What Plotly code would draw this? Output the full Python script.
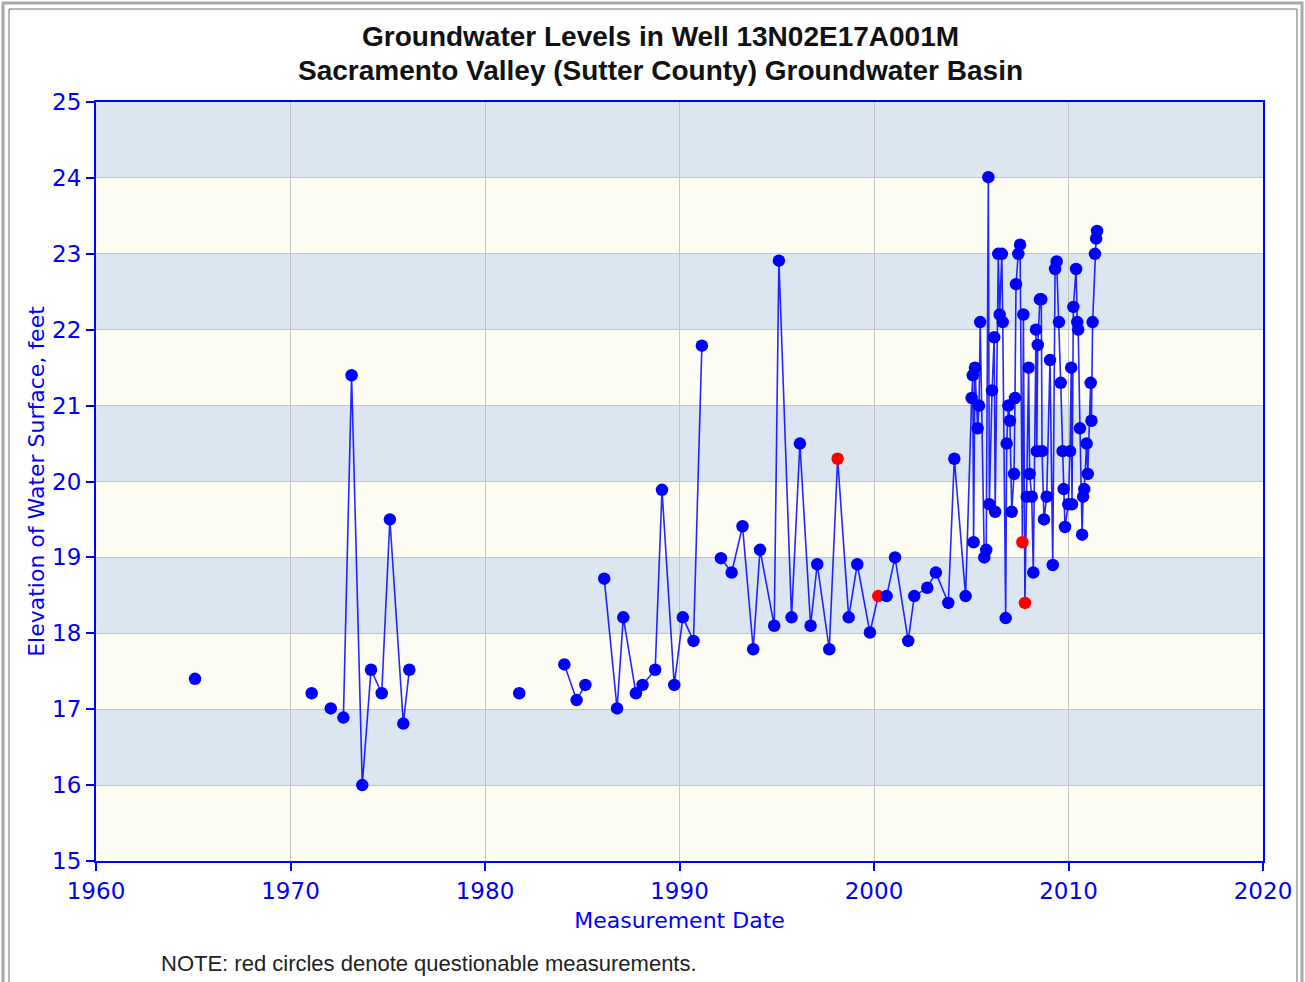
import plotly.graph_objects as go

# ---------------- data ----------------
dates = [
    1965.09,
    1971.09,
    1972.07,
    1972.72, 1973.14, 1973.69, 1974.14, 1974.69, 1975.11, 1975.80, 1976.11,
    1981.76,
    1984.08, 1984.71, 1985.16,
    1986.13, 1986.79, 1987.11, 1987.76, 1988.10, 1988.75, 1989.10, 1989.73,
    1990.17, 1990.72, 1991.15,
    1992.13, 1992.68, 1993.24, 1993.79, 1994.14, 1994.87, 1995.11, 1995.76,
    1996.19, 1996.74, 1997.08, 1997.70, 1998.13, 1998.70, 1999.14, 1999.79,
    2000.22, 2000.65, 2001.08, 2001.76, 2002.07, 2002.74, 2003.18, 2003.82,
    2004.13, 2004.71,
    2005.02, 2005.08, 2005.12, 2005.19, 2005.33, 2005.40, 2005.46, 2005.67,
    2005.77, 2005.88, 2005.93, 2006.07, 2006.18, 2006.23, 2006.39, 2006.46,
    2006.57, 2006.62, 2006.77, 2006.82, 2006.91, 2006.99, 2007.08, 2007.20,
    2007.25, 2007.30, 2007.42, 2007.51, 2007.63, 2007.68, 2007.76, 2007.85,
    2007.95, 2008.00, 2008.11, 2008.19, 2008.33, 2008.37, 2008.42, 2008.53,
    2008.60, 2008.64, 2008.74, 2008.88, 2009.05, 2009.19, 2009.31, 2009.39,
    2009.51, 2009.60, 2009.70, 2009.75, 2009.82, 2009.99, 2010.08, 2010.14,
    2010.18, 2010.25, 2010.39, 2010.45, 2010.50, 2010.59, 2010.70, 2010.75,
    2010.81, 2010.93, 2010.99, 2011.14, 2011.18, 2011.24, 2011.36, 2011.42,
    2011.47,
]

levels = [
    17.40,
    17.21,
    17.01,
    16.89, 21.40, 16.00, 17.52, 17.21, 19.50, 16.81, 17.52,
    17.21,
    17.59, 17.12, 17.32,
    18.72, 17.01, 18.21, 17.21, 17.32, 17.52, 19.89, 17.32,
    18.21, 17.90, 21.79,
    18.99, 18.80, 19.41, 17.79, 19.10, 18.10, 22.91, 18.21,
    20.50, 18.10, 18.91, 17.79, 20.30, 18.21, 18.91, 18.01,
    18.49, 18.49, 19.00, 17.90, 18.49, 18.60, 18.80, 18.40,
    20.30, 18.49,
    21.10, 21.40, 19.20, 21.50, 20.70, 21.00, 22.10, 19.00,
    19.10, 24.01, 19.70, 21.20, 21.90, 19.60, 23.00, 22.20,
    23.00, 22.10, 18.20, 20.50, 21.00, 20.80, 19.60, 20.10,
    21.10, 22.60, 23.00, 23.12, 19.20, 22.20, 18.40, 19.80,
    21.50, 20.10, 19.80, 18.80, 22.00, 20.40, 21.80, 22.40,
    22.40, 20.40, 19.50, 19.80, 21.60, 18.90, 22.80, 22.90,
    22.10, 21.30, 20.40, 19.90, 19.40, 19.70, 20.40, 21.50,
    19.70, 22.30, 22.80, 22.10, 22.00, 20.70, 19.30, 19.80,
    19.90, 20.50, 20.10, 21.30, 20.80, 22.10, 23.00, 23.20,
    23.30,
]

questionable_dates = [1998.13, 2000.22, 2007.63, 2007.76]

# indices after which the connecting line is broken
line_breaks_after = [0, 1, 2, 10, 11, 14, 25]

x_tick_values = [1960, 1970, 1980, 1990, 2000, 2010, 2020]
y_tick_values = list(range(15, 26))

title_lines = ["Groundwater Levels in Well 13N02E17A001M",
               "Sacramento Valley (Sutter County) Groundwater Basin"]
x_title = "Measurement Date"
y_title = "Elevation of Water Surface, feet"
note_text = "NOTE: red circles denote questionable measurements."

# ---------------- build figure ----------------
BLUE = "#0000FF"
RED = "#FF0000"

line_x, line_y = [], []
for i, (d, v) in enumerate(zip(dates, levels)):
    line_x.append(d)
    line_y.append(v)
    if i in line_breaks_after:
        line_x.append(None)
        line_y.append(None)

marker_colors = [RED if d in questionable_dates else BLUE for d in dates]

fig = go.Figure()
fig.add_trace(go.Scatter(
    x=line_x, y=line_y, mode="lines",
    line=dict(color="rgba(0,0,255,0.85)", width=1.6),
    connectgaps=False, hoverinfo="skip", showlegend=False,
))
fig.add_trace(go.Scatter(
    x=dates, y=levels, mode="markers",
    marker=dict(color=marker_colors, size=12.5, line=dict(width=0)),
    showlegend=False,
))

# alternating background bands
shapes = []
for lo in range(15, 25):
    shapes.append(dict(
        type="rect", xref="paper", yref="y", x0=0, x1=1, y0=lo, y1=lo + 1,
        fillcolor="#DCE6F1" if lo % 2 == 0 else "#FDFDF4",
        line=dict(width=0), layer="below",
    ))

# outer image frame (px -> paper)
W, H = 1305, 982
L, R, T, B = 96, 42, 102, 121
pw, ph = W - L - R, H - T - B


def px(xp):
    return (xp - L) / pw


def py(yp):
    return (H - B - yp) / ph


shapes.append(dict(type="rect", xref="paper", yref="paper",
                   x0=px(3), x1=px(1302), y0=py(3), y1=py(1000),
                   line=dict(color="#A8A8A8", width=3), layer="above"))
shapes.append(dict(type="rect", xref="paper", yref="paper",
                   x0=px(9), x1=px(1297), y0=py(9), y1=py(1000),
                   line=dict(color="#707070", width=1), layer="above"))

title_font = dict(family="Liberation Sans, Arial", size=28, color="#111111")
annotations = [
    dict(text=f"<b>{title_lines[0]}</b>", xref="paper", yref="paper",
         x=px(660), y=py(37), xanchor="center", yanchor="middle",
         showarrow=False, font=title_font),
    dict(text=f"<b>{title_lines[1]}</b>", xref="paper", yref="paper",
         x=px(660), y=py(71), xanchor="center", yanchor="middle",
         showarrow=False, font=title_font),
    dict(text=note_text, xref="paper", yref="paper",
         x=px(159), y=py(963), xanchor="left", yanchor="middle",
         showarrow=False,
         font=dict(family="Liberation Sans, Arial", size=22, color="#222222")),
]

tick_font = dict(family="DejaVu Sans", size=23, color=BLUE)
title_axis_font = dict(family="DejaVu Sans", size=22, color=BLUE)

fig.update_layout(
    width=W, height=H,
    margin=dict(l=L, r=R, t=T, b=B, autoexpand=False),
    paper_bgcolor="white",
    plot_bgcolor="#FDFDF4",
    shapes=shapes,
    annotations=annotations,
    xaxis=dict(
        range=[1960, 2020], tickvals=x_tick_values,
        ticktext=[str(v) for v in x_tick_values],
        showgrid=True, gridcolor="#C4C4C4", gridwidth=1,
        showline=True, linecolor=BLUE, linewidth=2, mirror=True,
        ticks="outside", ticklen=8, tickcolor=BLUE, tickwidth=2,
        tickfont=tick_font, zeroline=False, automargin=False,
        title=dict(text=x_title, font=title_axis_font, standoff=10),
    ),
    yaxis=dict(
        range=[15, 25], tickvals=y_tick_values,
        showgrid=True, gridcolor="#C4C4C4", gridwidth=1,
        showline=True, linecolor=BLUE, linewidth=2, mirror=True,
        ticks="outside", ticklen=8, tickcolor=BLUE, tickwidth=2,
        tickfont=tick_font, zeroline=False, automargin=False,
        title=dict(text=y_title, font=title_axis_font, standoff=1),
    ),
)

fig.write_html("out.html", config={"displayModeBar": False},
               post_script="document.body.style.margin='0';")
